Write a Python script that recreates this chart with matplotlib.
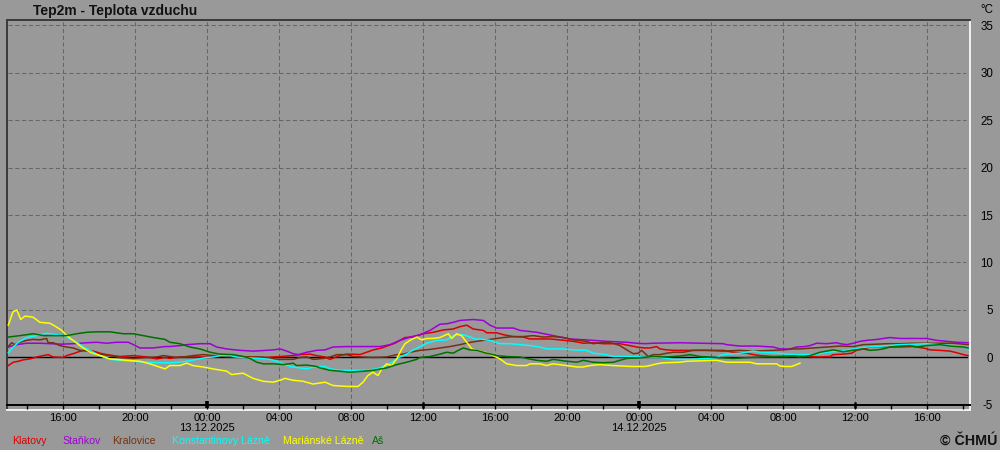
import matplotlib
matplotlib.use("Agg")
import matplotlib.pyplot as plt

plt.rcParams['font.family'] = ['Liberation Sans', 'DejaVu Sans']

# ---------------- data (hours relative to 13.12.2025 00:00, temperature in degC) -------------
klatovy_t = [-11.04, -10.76, -10.48, -10.21, -9.83, -9.46, -9.09, -8.82, -8.54, -7.98, -7.79, -7.43,
             -7.06, -6.68, -6.32, -5.94, -5.57, -5.21, -4.83, -4.09, -3.35, -2.79, -2.33, -2.06, -1.5,
             -0.76, -0.02, 0.54, 1.09, 1.83, 2.57, 3.32, 4.06, 4.79, 5.17, 5.72, 6.09, 6.56, 6.83, 7.39,
             7.76, 8.13, 8.5, 8.87, 9.24, 9.71, 10.07, 10.44, 10.72, 11.0, 11.46, 12.02, 12.57, 13.13,
             13.68, 14.06, 14.43, 14.79, 15.35, 15.54, 16.09, 16.46, 17.02, 17.57, 17.94, 19.06, 19.61,
             20.35, 20.91, 21.46, 22.02, 22.94, 23.5, 23.87, 24.33, 24.61, 24.98, 25.17, 25.54, 25.91,
             26.83, 27.76, 28.68, 29.24, 29.98, 30.35, 30.72, 31.46, 32.21, 32.76, 33.22, 34.06, 34.61,
             34.79, 35.35, 35.82, 36.09, 36.46, 36.83, 37.39, 37.76, 38.5, 39.24, 39.79, 40.17, 40.72,
             41.28, 41.65, 42.02, 42.28]
klatovy_v = [-0.85, -0.5, -0.4, -0.25, -0.15, 0.05, 0.2, 0.3, 0.05, 0.0, 0.2, 0.4, 0.65, 0.8, 0.67, 0.45,
             0.3, 0.2, 0.1, 0.2, 0.05, -0.15, 0.0, -0.1, 0.05, 0.05, 0.05, 0.2, 0.1, 0.1, 0.05, 0.0, 0.1,
             0.2, 0.3, 0.35, 0.2, 0.05, -0.2, 0.2, 0.35, 0.35, 0.3, 0.55, 0.8, 1.0, 1.25, 1.5, 1.8, 2.1,
             2.15, 2.5, 2.65, 2.9, 3.0, 3.25, 3.4, 3.0, 2.85, 2.6, 2.6, 2.4, 2.2, 2.15, 1.95, 1.95, 1.85,
             1.7, 1.5, 1.55, 1.45, 1.45, 1.25, 1.1, 1.0, 1.0, 1.15, 0.9, 0.8, 0.75, 0.75, 0.75, 0.75, 0.55,
             0.45, 0.3, 0.2, 0.1, 0.1, 0.2, 0.1, 0.05, 0.1, 0.3, 0.35, 0.45, 0.75, 0.9, 1.1, 1.15, 1.1,
             1.1, 1.15, 1.0, 0.8, 0.75, 0.67, 0.5, 0.3, 0.2]

stankov_t = [-11.04, -10.57, -10.02, -9.28, -8.72, -8.07, -7.43, -6.68, -6.13, -5.57, -5.02, -4.37,
             -4.09, -3.72, -3.0, -2.33, -2.06, -1.5, -1.13, -0.39, 0.17, 0.54, 1.09, 1.83, 2.57, 3.32,
             3.68, 4.06, 4.43, 4.79, 5.07, 5.54, 6.09, 6.56, 7.0, 7.76, 8.68, 9.61, 10.17, 10.72, 11.28,
             11.83, 12.39, 12.94, 13.32, 13.68, 14.06, 14.79, 15.35, 15.72, 16.09, 17.02, 17.39, 18.32,
             19.24, 20.17, 21.09, 22.21, 23.32, 23.87, 24.33, 24.79, 26.28, 28.68, 28.87, 29.61, 30.54,
             31.46, 31.83, 32.39, 32.76, 33.22, 33.5, 33.87, 34.43, 34.98, 35.17, 35.54, 35.91, 36.28,
             36.65, 37.21, 37.94, 38.5, 39.24, 39.98, 40.54, 41.09, 41.65, 42.29]
stankov_v = [1.1, 1.35, 1.5, 1.5, 1.45, 1.4, 1.45, 1.55, 1.6, 1.5, 1.6, 1.6, 1.35, 1.0, 1.0, 1.15,
             1.15, 1.25, 1.35, 1.45, 1.45, 1.1, 0.9, 0.75, 0.67, 0.75, 0.8, 0.9, 0.67, 0.4, 0.3, 0.55,
             0.75, 0.8, 1.1, 1.15, 1.15, 1.15, 1.35, 1.8, 2.15, 2.4, 2.85, 3.5, 3.55, 3.7, 3.9, 4.0, 3.9,
             3.4, 3.1, 3.1, 2.85, 2.65, 2.3, 1.95, 1.85, 1.7, 1.6, 1.5, 1.45, 1.5, 1.55, 1.45, 1.35, 1.2,
             1.2, 1.1, 0.9, 0.9, 1.1, 1.15, 1.25, 1.5, 1.45, 1.55, 1.45, 1.35, 1.5, 1.7, 1.8, 1.9, 2.1,
             2.0, 2.0, 2.0, 1.8, 1.7, 1.6, 1.55]

kralovice_t = [-11.04, -10.85, -10.67, -10.39, -10.02, -9.65, -9.28, -8.91, -8.82, -8.54, -8.17, -7.79,
               -7.43, -7.06, -6.68, -6.32, -5.94, -5.39, -4.83, -4.09, -3.35, -2.79, -2.43, -2.06, -1.68,
               -1.13, -0.76, -0.21, 0.35, 1.09, 2.02, 2.94, 3.5, 4.06, 4.79, 5.17, 5.54, 5.91, 6.46, 6.83,
               7.21, 7.76, 8.13, 8.68, 9.24, 9.98, 10.54, 10.91, 11.28, 11.83, 12.39, 12.94, 13.5, 14.06,
               14.52, 14.98, 15.72, 16.46, 17.02, 17.57, 18.13, 18.68, 19.24, 19.79, 20.35, 21.09, 21.46,
               22.02, 22.57, 22.94, 23.32, 23.68, 23.96, 24.15, 24.52, 24.79, 25.17, 25.54, 25.91, 26.46,
               27.02, 27.76, 28.68, 29.61, 30.35, 31.46, 32.02, 32.57, 32.94, 33.68, 34.43, 35.17, 35.91,
               36.46, 37.21, 37.76, 38.5, 39.24, 39.98, 40.72, 41.46, 42.29]
kralovice_v = [1.15, 1.55, 1.35, 1.6, 1.8, 1.9, 1.85, 2.0, 1.55, 1.55, 1.25, 1.1, 1.0, 0.75, 0.67, 0.5,
               0.35, 0.2, 0.0, -0.1, 0.0, 0.05, 0.2, 0.1, 0.0, 0.1, 0.2, 0.3, 0.2, 0.1, 0.05, 0.05, -0.1,
               -0.2, -0.2, 0.0, 0.05, -0.2, -0.1, 0.05, 0.3, 0.3, 0.1, 0.05, 0.0, 0.05, 0.3, 0.35, 0.55,
               0.75, 0.85, 1.0, 1.15, 1.35, 1.55, 1.7, 1.9, 2.1, 2.2, 2.2, 2.3, 2.15, 2.2, 2.1, 1.85, 1.7,
               1.45, 1.6, 1.5, 1.25, 0.8, 0.4, 0.45, 0.75, 0.1, 0.3, 0.3, 0.45, 0.55, 0.55, 0.75, 0.75,
               0.67, 0.75, 0.67, 0.75, 0.8, 0.9, 0.9, 1.0, 1.1, 1.2, 1.15, 1.35, 1.4, 1.45, 1.45, 1.5, 1.5,
               1.5, 1.5, 1.35]

konstantinovy_t = [-11.04, -10.76, -10.48, -10.02, -9.46, -8.91, -8.35, -7.89, -7.61, -7.24, -6.87, -6.5,
                   -6.13, -5.76, -5.39, -4.83, -4.09, -3.35, -2.79, -1.87, -1.13, -0.57, -0.02, 0.35, 0.72,
                   1.28, 1.65, 2.02, 2.94, 3.5, 3.87, 4.24, 4.61, 5.17, 5.54, 5.91, 6.56, 6.83, 7.39, 8.13,
                   8.87, 9.43, 9.98, 10.35, 10.72, 11.09, 11.46, 11.83, 12.21, 12.76, 13.32, 13.68, 14.24,
                   14.61, 14.98, 15.17, 15.72, 16.28, 16.83, 17.39, 17.94, 18.5, 18.87, 19.79, 20.35, 21.09,
                   21.46, 22.02, 22.57, 23.87, 24.61, 25.17, 25.54, 25.91, 26.83, 27.76, 28.32, 28.5, 28.87,
                   29.61, 30.35, 30.72, 31.46, 32.21, 32.76, 33.5, 33.87, 34.43, 35.17, 35.91, 36.65, 37.57,
                   38.5, 39.24, 39.98, 40.72, 41.46, 42.02, 42.28]
konstantinovy_v = [0.5, 1.1, 1.6, 2.1, 2.3, 2.55, 2.4, 2.3, 1.95, 1.6, 1.1, 0.75, 0.35, 0.05, -0.2, -0.3,
                   -0.4, -0.5, -0.55, -0.55, -0.4, -0.2, 0.0, 0.05, 0.2, 0.2, 0.05, 0.0, -0.1, -0.2, -0.4,
                   -0.67, -0.95, -1.1, -1.2, -1.0, -0.95, -1.2, -1.35, -1.35, -1.35, -1.2, -0.85, -0.4, 0.05,
                   0.35, 0.8, 1.15, 1.5, 1.8, 1.85, 2.3, 2.4, 2.15, 1.9, 1.95, 1.8, 1.45, 1.45, 1.35, 1.25,
                   1.1, 0.9, 0.9, 0.8, 0.75, 0.45, 0.35, 0.1, 0.1, 0.0, 0.0, -0.1, -0.2, -0.2, -0.1, 0.0, 0.2,
                   0.35, 0.45, 0.67, 0.55, 0.5, 0.35, 0.3, 0.3, 0.35, 0.55, 0.67, 0.9, 1.1, 1.2, 1.35, 1.4,
                   1.45, 1.35, 1.2, 1.1, 0.9]

marianske_t = [-11.04, -10.78, -10.56, -10.35, -10.11, -9.67, -9.28, -8.72, -8.44, -8.07, -7.79, -7.44,
               -6.96, -6.5, -5.94, -5.39, -4.46, -3.72, -3.17, -2.33, -2.06, -1.5, -1.13, -0.78, -0.22,
               0.54, 1.09, 1.37, 2.0, 2.56, 3.11, 3.67, 4.06, 4.33, 4.78, 5.33, 5.89, 6.56, 7.0, 7.76,
               8.39, 8.67, 8.94, 9.22, 9.5, 9.71, 9.98, 10.26, 10.54, 10.82, 11.0, 11.28, 11.65, 11.93,
               12.21, 12.56, 12.94, 13.41, 13.59, 13.87, 14.15, 14.43, 14.71, 14.98, 15.44, 15.89, 16.28,
               16.65, 17.21, 17.76, 17.94, 18.5, 18.87, 19.22, 19.98, 20.54, 20.89, 21.28, 21.83, 22.56,
               23.59, 24.33, 24.61, 24.98, 25.33, 26.28, 26.65, 28.32, 28.87, 29.22, 30.17, 30.54, 31.65,
               31.83, 32.11, 32.48, 32.76, 32.94]
marianske_v = [3.4, 4.8, 5.0, 4.0, 4.35, 4.25, 3.7, 3.6, 3.3, 2.85, 2.3, 1.8, 1.1, 0.55, 0.2, -0.15, -0.3,
               -0.4, -0.67, -1.2, -0.85, -0.85, -0.6, -0.85, -1.0, -1.27, -1.44, -1.8, -1.65, -2.2, -2.5,
               -2.6, -2.4, -2.2, -2.4, -2.5, -2.8, -2.6, -2.95, -3.05, -3.05, -2.6, -1.9, -1.55, -1.9, -1.2,
               -0.67, -0.85, -0.15, 0.9, 1.45, 1.8, 2.15, 1.85, 2.0, 2.0, 2.1, 2.5, 2.0, 2.5, 2.3, 1.6, 0.9,
               0.75, 0.55, 0.2, -0.15, -0.67, -0.85, -0.85, -0.67, -0.67, -0.85, -0.67, -0.85, -1.0, -1.0,
               -0.85, -0.75, -0.85, -0.95, -0.95, -0.85, -0.67, -0.56, -0.5, -0.4, -0.3, -0.5, -0.5, -0.5,
               -0.67, -0.67, -0.9, -0.95, -0.95, -0.75, -0.6]

as_t = [-11.04, -10.39, -9.65, -9.09, -8.35, -7.79, -7.24, -6.68, -6.13, -5.39, -4.65, -4.09, -3.54,
        -2.98, -2.33, -2.06, -1.5, -0.94, -0.39, 0.17, 0.72, 1.46, 2.02, 2.39, 2.76, 3.13, 3.68, 4.24,
        4.79, 4.98, 5.54, 6.09, 6.28, 6.83, 7.39, 7.94, 8.68, 9.24, 9.98, 10.54, 11.09, 11.65, 11.83,
        12.39, 12.94, 13.32, 13.68, 13.96, 14.24, 14.61, 14.98, 15.54, 16.09, 16.65, 17.39, 17.76, 18.32,
        18.87, 19.24, 19.79, 20.54, 20.91, 21.46, 22.02, 22.57, 22.94, 23.32, 23.87, 24.79, 25.54, 26.28,
        26.83, 27.39, 28.32, 29.24, 30.17, 30.91, 31.87, 32.57, 32.94, 33.5, 34.06, 34.79, 35.35, 36.0,
        36.46, 36.83, 37.21, 37.57, 37.94, 38.5, 39.06, 39.43, 39.98, 40.72, 41.28, 42.02, 42.28]
as_v = [2.15, 2.3, 2.5, 2.3, 2.3, 2.3, 2.5, 2.65, 2.7, 2.7, 2.5, 2.5, 2.3, 2.1, 1.9, 1.6, 1.45, 1.1, 0.9,
        0.55, 0.35, 0.3, 0.1, -0.1, -0.5, -0.67, -0.67, -0.75, -0.6, -0.85, -0.8, -0.95, -1.1, -1.35,
        -1.45, -1.55, -1.45, -1.35, -1.1, -0.75, -0.5, -0.2, 0.0, 0.1, 0.35, 0.55, 0.45, 0.75, 1.0, 0.8,
        0.75, 0.45, 0.2, 0.1, 0.05, -0.1, -0.3, -0.4, -0.2, -0.35, -0.5, -0.3, -0.5, -0.55, -0.5, -0.3,
        -0.1, -0.05, 0.1, 0.05, 0.15, 0.3, 0.1, 0.0, -0.1, 0.0, 0.05, 0.1, 0.15, 0.05, 0.2, 0.55, 0.8,
        0.6, 0.8, 0.9, 0.75, 0.8, 0.9, 1.1, 1.2, 1.25, 1.1, 1.25, 1.35, 1.2, 1.1, 1.0]

station_names = ['Klatovy', 'Staňkov', 'Kralovice', 'Konstantinovy Lázně', 'Mariánské Lázně', 'Aš']

x_tick_hours = [-8, -4, 0, 4, 8, 12, 16, 20, 24, 28, 32, 36, 40]
x_tick_labels = ['16:00', '20:00', '00:00\n13.12.2025', '04:00', '08:00', '12:00', '16:00', '20:00',
                 '00:00\n14.12.2025', '04:00', '08:00', '12:00', '16:00']
x_minor_hours = [-10, -6, -2, 2, 6, 10, 14, 18, 22, 26, 30, 34, 38, 42]
day_marks = [0, 24]
noon_marks = [12, 36]
y_ticks = [-5, 0, 5, 10, 15, 20, 25, 30, 35]

# ---------------- styling ----------------
BG = '#999999'
colors = ['#dd0000', '#a000d8', '#743210', '#00ffff', '#ffff00', '#007000']
series = [(klatovy_t, klatovy_v), (stankov_t, stankov_v), (kralovice_t, kralovice_v),
          (konstantinovy_t, konstantinovy_v), (marianske_t, marianske_v), (as_t, as_v)]

fig = plt.figure(figsize=(10, 4.5), dpi=100, facecolor=BG)
pos = [7 / 1000, 1 - 410 / 450, 963 / 1000, 390 / 450]

frame = fig.add_axes(pos, zorder=0)
frame.set_facecolor(BG)
frame.set_xticks([])
frame.set_yticks([])
for side, c in [('left', '#3a3a3a'), ('top', '#3a3a3a'), ('right', '#f2f2f2'), ('bottom', '#f2f2f2')]:
    frame.spines[side].set_color(c)
    frame.spines[side].set_linewidth(1.4)

ax = fig.add_axes(pos, zorder=1)
ax.set_facecolor('none')
ax.set_xlim(-11.11, 42.39)
ax.set_ylim(-5.53, 35.53)
for side in ['left', 'right', 'top']:
    ax.spines[side].set_visible(False)
ax.spines['bottom'].set_position(('data', -5))
ax.spines['bottom'].set_color('black')
ax.spines['bottom'].set_linewidth(1.4)

# grid
grid_kw = dict(color='#666666', linewidth=0.75, linestyle=(0, (4, 2.5)))
for yv in y_ticks[1:]:
    ax.axhline(yv, xmin=0.001, xmax=0.996, **grid_kw)
ax.vlines(x_tick_hours, -5, 35.4, **grid_kw)
ax.axhline(0, xmin=0.001, xmax=0.997, color='black', linewidth=1.0, zorder=2)

for (t, v), c in zip(series, colors):
    ax.plot(t, v, color=c, linewidth=1.1, zorder=3)

# x axis
ax.set_xticks(x_tick_hours, x_tick_labels)
ax.set_xticks(x_minor_hours, minor=True)
ax.tick_params(axis='x', which='both', direction='out', length=3, width=1, color='black',
               labelsize=8, pad=2.5, labelcolor='black')
for lab in ax.get_xticklabels():
    lab.set_linespacing(1.0)
ax.vlines(day_marks, -5.35, -4.6, color='black', linewidth=2.6, zorder=4)
ax.vlines(noon_marks, -5.3, -4.7, color='black', linewidth=1.8, zorder=4)

# y axis on right
ax.yaxis.tick_right()
ax.set_yticks(y_ticks, [str(v) for v in y_ticks])
ax.tick_params(axis='y', length=0, pad=16.6, labelsize=8.3, labelcolor='black')
for lab in ax.get_yticklabels():
    lab.set_horizontalalignment('right')

fig.text(993 / 1000, 1 - 10 / 450, '°C', ha='right', va='center', fontsize=8.3, color='black')
fig.text(33 / 1000, 1 - 10.5 / 450, 'Tep2m - Teplota vzduchu', ha='left', va='center',
         fontsize=10, fontweight='bold', color='#111111')

legend_x = [12, 62, 112, 172, 283, 372]
for name, c, lx in zip(station_names, colors, legend_x):
    fig.text(lx / 1000, 1 - 441 / 450, name, ha='left', va='center', fontsize=7.6, color=c)

fig.text(997 / 1000, 1 - 440.5 / 450, '© ČHMÚ', ha='right', va='center', fontsize=10.3,
         fontweight='bold', color='#111111')

fig.savefig('out.png', dpi=100, facecolor=BG)
